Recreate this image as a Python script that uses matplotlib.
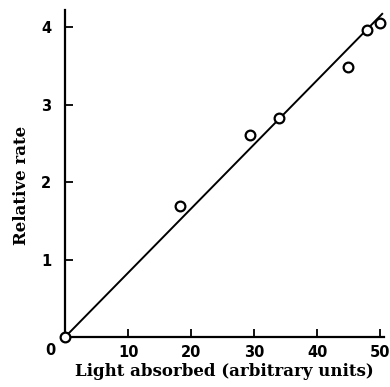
import matplotlib.pyplot as plt

# measured points
light = [0, 18.2, 29.4, 34.0, 44.9, 47.9, 50.0]
rate = [0, 1.69, 2.61, 2.83, 3.48, 3.96, 4.05]

# fitted straight line through origin
fit_x = [0, 50.4]
fit_y = [0, 4.18]

x_ticks = [10, 20, 30, 40, 50]
y_ticks = [1, 2, 3, 4]

plt.rcParams['font.family'] = 'DejaVu Serif'
plt.rcParams['font.weight'] = 'bold'

fig = plt.figure(figsize=(3.9, 3.87), dpi=100)
ax = fig.add_axes([0.1667, 0.129, 0.8183, 0.845])

ax.plot(fit_x, fit_y, color='black', linewidth=1.4, solid_capstyle='butt')
ax.plot(light, rate, linestyle='none', marker='o', markersize=7,
        markerfacecolor='white', markeredgecolor='black', markeredgewidth=1.6,
        clip_on=False, zorder=3)

ax.set_xlim(0, 50.6)
ax.set_ylim(0, 4.22)

for side in ['top', 'right']:
    ax.spines[side].set_visible(False)
for side in ['left', 'bottom']:
    ax.spines[side].set_linewidth(1.6)

ax.set_xticks(x_ticks)
ax.set_yticks(y_ticks)
ax.set_xticklabels([str(v) for v in x_ticks], fontsize=10.5, fontweight='bold',
                   family='DejaVu Sans')
ax.set_yticklabels([str(v) for v in y_ticks], fontsize=10.5, fontweight='bold',
                   family='DejaVu Sans')
ax.tick_params(direction='in', length=6, width=1.3, pad=6)
ax.tick_params(axis='y', pad=10)

# shared origin label in the corner
ax.annotate('0', xy=(0, 0), xytext=(-15, -13), textcoords='offset pixels',
            ha='center', va='center', fontsize=10.5, fontweight='bold',
            family='DejaVu Sans')

ax.set_xlabel('Light absorbed (arbitrary units)', fontsize=12, fontweight='bold',
              labelpad=2)
ax.set_ylabel('Relative rate', fontsize=12, fontweight='bold')
ax.yaxis.set_label_coords(-0.11, 0.465)

fig.savefig('out.png', dpi=100)
